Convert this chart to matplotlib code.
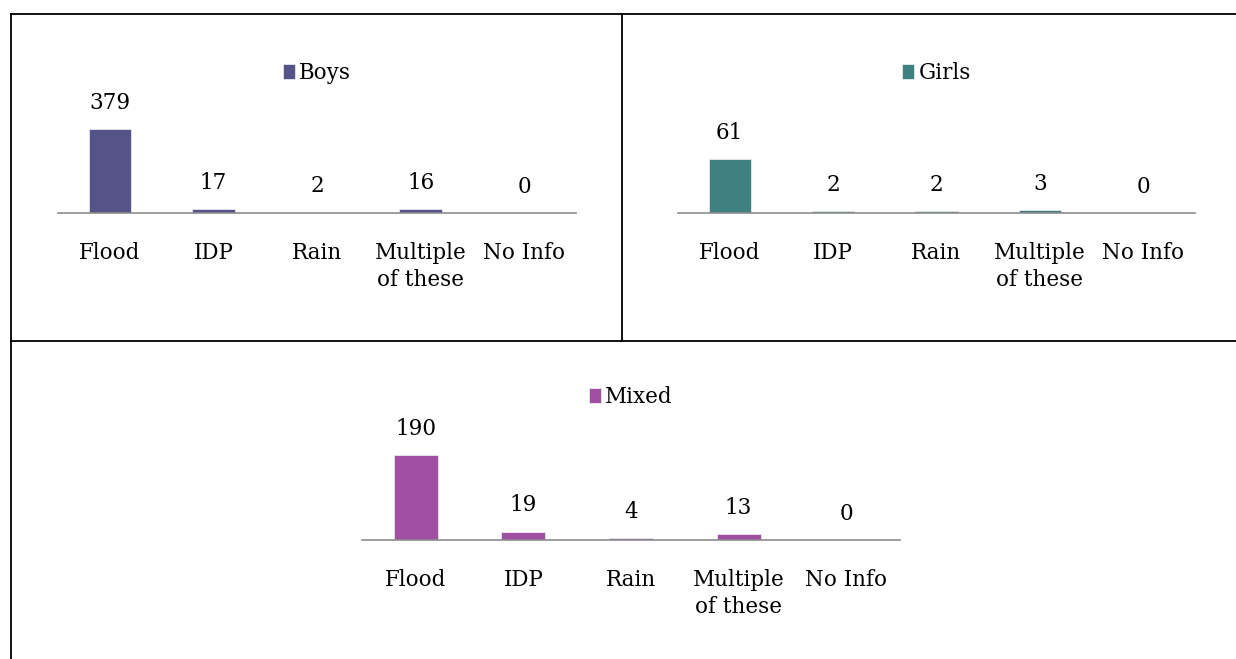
import matplotlib
matplotlib.use("Agg")
import matplotlib.pyplot as plt
from matplotlib.lines import Line2D

W, H = 1236, 659
DPI = 100

categories = ["Flood", "IDP", "Rain", "Multiple\nof these", "No Info"]
boys = [379, 17, 2, 16, 0]
girls = [61, 2, 2, 3, 0]
mixed = [190, 19, 4, 13, 0]

plt.rcParams["font.family"] = ["DejaVu Serif"]
FS = 15.5


def px_axes(fig, x0, x1, y_axis, h):
    # rectangle given in pixels from the top-left corner
    return fig.add_axes([x0 / W, (H - y_axis) / H, (x1 - x0) / W, h / H])


def draw_chart(ax, values, color, name, ymax, legend_y):
    x = range(len(values))
    bars = ax.bar(x, values, width=0.41, color=color, edgecolor="#e8e8f0",
                  linewidth=0.6, label=name)
    ax.set_xlim(-0.5, len(values) - 0.5)
    ax.set_ylim(0, ymax)
    for xi, v in zip(x, values):
        ax.annotate(str(v), (xi, v), xytext=(0, 19), textcoords="offset points",
                    ha="center", va="center", fontsize=FS)
    ax.set_xticks(list(x))
    ax.set_xticklabels(categories, fontsize=FS, linespacing=1.3)
    ax.tick_params(axis="x", length=0, pad=21)
    ax.set_yticks([])
    for s in ["top", "left", "right"]:
        ax.spines[s].set_visible(False)
    ax.spines["bottom"].set_color("#8c8c8c")
    ax.spines["bottom"].set_linewidth(1.2)
    ax.patch.set_alpha(0)
    ax.legend(handles=[bars], loc="center", frameon=False, fontsize=FS,
              handlelength=0.55, handleheight=0.7, handletextpad=0.2,
              bbox_to_anchor=(0.5, legend_y), bbox_transform=ax.transAxes)


fig = plt.figure(figsize=(W / DPI, H / DPI), dpi=DPI)

ax1 = px_axes(fig, 58, 576, 213, 84)
draw_chart(ax1, boys, "#545488", "Boys", 379, 1 + (213 - 73 - 84) / 84)

ax2 = px_axes(fig, 678, 1195, 213, 54)
draw_chart(ax2, girls, "#3f8080", "Girls", 61, 1 + (213 - 73 - 54) / 54)

ax3 = px_axes(fig, 362, 900, 540, 85)
draw_chart(ax3, mixed, "#a04fa3", "Mixed", 190, 1 + (540 - 397 - 85) / 85)

# table borders
def border(x0, y0, x1, y1):
    fig.add_artist(Line2D([x0 / W, x1 / W], [1 - y0 / H, 1 - y1 / H],
                          color="black", linewidth=1.3,
                          transform=fig.transFigure))

border(11, 14, W, 14)
border(11, 14, 11, H)
border(11, 341, W, 341)
border(622, 14, 622, 341)

fig.savefig("out.png", dpi=DPI)
